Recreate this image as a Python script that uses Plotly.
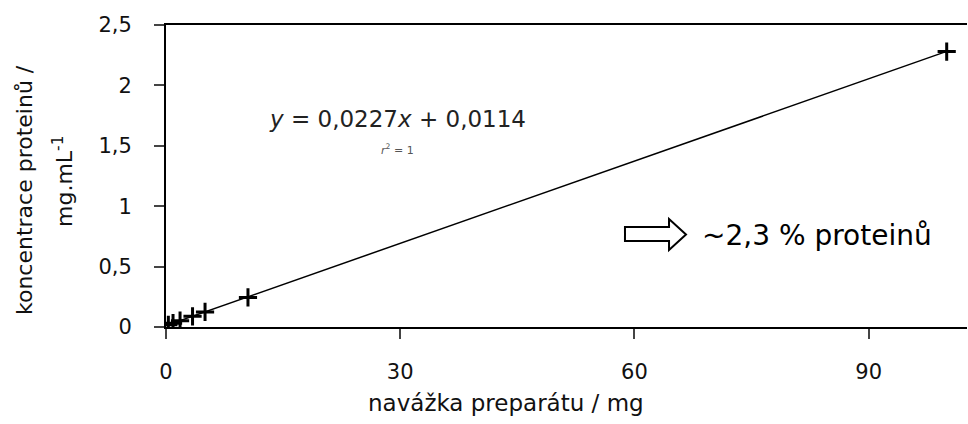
import plotly.graph_objects as go

x_mg = [0.3, 0.9, 1.8, 3.4, 5.0, 10.5, 100.0]
y_conc = [0.018, 0.032, 0.052, 0.088, 0.125, 0.245, 2.28]
slope = 0.0227
intercept = 0.0114
fit_x = [0.0, 100.0]
fit_y = [slope * v + intercept for v in fit_x]

x_ticks = [0, 30, 60, 90]
y_ticks = [0, 0.5, 1, 1.5, 2, 2.5]
y_tick_labels = ["0", "0,5", "1", "1,5", "2", "2,5"]

FONT = "DejaVu Sans, sans-serif"
L, T, W, H = 166, 25, 801, 302

def pxp(xp, yp):
    return (xp - L) / W, (T + H - yp) / H

fig = go.Figure()
fig.add_trace(go.Scatter(x=fit_x, y=fit_y, mode="lines",
                         line=dict(color="black", width=1.5), hoverinfo="skip"))
fig.add_trace(go.Scatter(x=x_mg, y=y_conc, mode="markers",
                         marker=dict(symbol="cross-thin", size=13,
                                     line=dict(color="black", width=3))))

fig.update_layout(
    width=968, height=424,
    margin=dict(l=L, r=968 - L - W, t=T, b=424 - T - H),
    plot_bgcolor="white", paper_bgcolor="white",
    showlegend=False,
    font=dict(family=FONT, color="black", size=21),
    xaxis=dict(range=[0, 102.6], tickvals=x_ticks, ticks="outside", ticklen=10,
               tickwidth=1.5, showline=True, linecolor="black", linewidth=2,
               mirror=True, showgrid=False, zeroline=False,
               tickfont=dict(size=21, color="#111"), ticklabelstandoff=15),
    yaxis=dict(range=[0, 2.5], tickvals=y_ticks, ticktext=y_tick_labels,
               ticks="outside", ticklen=10, tickwidth=1.5,
               showline=True, linecolor="black", linewidth=2,
               showgrid=False, zeroline=False,
               tickfont=dict(size=21, color="#111"), ticklabelstandoff=18),
)

def note(xp, yp, text, size, color="black", angle=0, xanchor="center"):
    x, y = pxp(xp, yp)
    fig.add_annotation(xref="paper", yref="paper", x=x, y=y, text=text,
                       showarrow=False, xanchor=xanchor, yanchor="middle",
                       textangle=angle, font=dict(size=size, family=FONT, color=color))

note(24, 190, "koncentrace proteinů /", 22, "#111", -90)
note(63, 182, "mg.mL<sup>-1</sup>", 22, "#111", -90)
note(506, 403, "navážka preparátu / mg", 23, "#111")
note(397, 119, "<i>y</i> = 0,0227<i>x</i> + 0,0114", 23, "#222")
note(397, 149, "<i>r</i><sup>2</sup> = 1", 11, "#555")
note(700, 235, "~2,3 % proteinů", 28, "black", 0, "left")

def px(xp, yp):
    a, b = pxp(xp, yp)
    return f"{a:.4f},{b:.4f}"

arrow = ("M " + px(625, 227) + " L " + px(669, 227) + " L " + px(669, 219) +
         " L " + px(686, 234.5) + " L " + px(669, 250) + " L " + px(669, 241) +
         " L " + px(625, 241) + " Z")
fig.add_shape(type="path", xref="paper", yref="paper", path=arrow,
              line=dict(color="black", width=2), fillcolor="white")

fig.write_html("out.html")
